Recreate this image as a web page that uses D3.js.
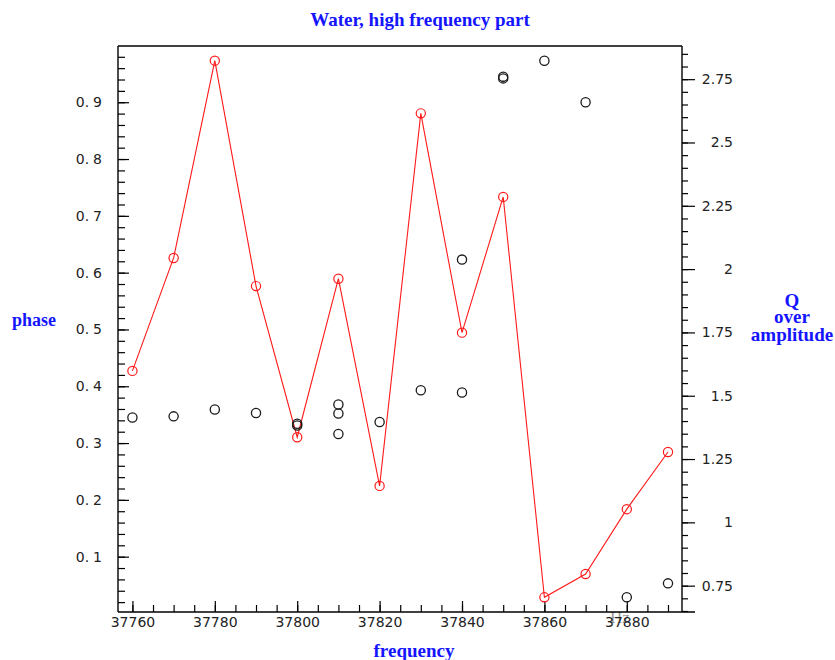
<!DOCTYPE html>
<html>
<head>
<meta charset="utf-8">
<script src="https://cdn.jsdelivr.net/npm/d3@7"></script>
<style>
  html, body { margin: 0; padding: 0; background: #fff; }
  svg { display: block; }
</style>
</head>
<body>
<svg id="chart" width="835" height="660"></svg>
<script>
// Measurement frequencies (Hz)
const freqRed = [37760, 37770, 37780, 37790, 37800, 37810, 37820, 37830, 37840, 37850, 37860, 37870, 37880, 37890];
// Q over amplitude (right axis), one value per frequency, joined by a line
const qOverAmp = [1.598, 2.044, 2.823, 1.933, 1.336, 1.962, 1.144, 2.615, 1.749, 2.285, 0.704, 0.796, 1.052, 1.278];

// Phase readings (left axis); some frequencies were measured more than once
const freqPhase = [37760, 37770, 37780, 37790, 37800, 37800, 37810, 37810, 37810, 37820, 37830, 37840, 37840, 37850, 37850, 37860, 37870, 37880, 37890];
const phase     = [0.345, 0.347, 0.359, 0.353, 0.334, 0.331, 0.368, 0.352, 0.316, 0.337, 0.393, 0.623, 0.389, 0.945, 0.942, 0.973, 0.900, 0.0285, 0.053];

// Tick values
const xMajor = [37760, 37780, 37800, 37820, 37840, 37860, 37880];
const leftMajor = [0.1, 0.2, 0.3, 0.4, 0.5, 0.6, 0.7, 0.8, 0.9];
const rightMajor = [0.75, 1, 1.25, 1.5, 1.75, 2, 2.25, 2.5, 2.75];

const svg = d3.select("#chart");
const L = 118, R = 682, T = 46, B = 612;

const x = d3.scaleLinear().domain([37756.5, 37893.4]).range([L, R]);
const yL = d3.scaleLinear().domain([0.0026, 0.999]).range([B, T]);
const yR = d3.scaleLinear().domain([0.646, 2.881]).range([B, T]);

const tickFont = "'DejaVu Sans', sans-serif";
const labelFont = "'Liberation Serif', 'Times New Roman', serif";
const blue = "#1414ff";

function styleAxis(g) {
  g.select(".domain").remove();
  g.selectAll(".tick line").attr("stroke", "#000").attr("stroke-width", 1.2);
  g.selectAll(".tick text").attr("fill", "#222").attr("font-family", tickFont).attr("font-size", 14);
}

// Unit label sits underneath the tick labels
svg.append("text")
  .attr("x", 620).attr("y", 623)
  .attr("text-anchor", "middle")
  .attr("font-family", labelFont).attr("font-size", 17)
  .attr("fill", "#9a9a9a")
  .text("Hz");

// Bottom axis: inward ticks
const xMinor = d3.range(37760, 37893, 5);
svg.append("g").attr("transform", `translate(0,${B})`)
  .call(d3.axisBottom(x).tickValues(xMinor).tickSizeInner(-7).tickSizeOuter(0).tickFormat(""))
  .call(styleAxis);
svg.append("g").attr("transform", `translate(0,${B})`)
  .call(d3.axisBottom(x).tickValues(xMajor).tickSizeInner(-11).tickSizeOuter(0).tickPadding(5).tickFormat(d => String(d)))
  .call(styleAxis);

// Left axis: inward ticks; the digit after the point is set a little apart
const leftMinor = d3.range(1, 50).map(i => i * 0.02);
svg.append("g").attr("transform", `translate(${L},0)`)
  .call(d3.axisLeft(yL).tickValues(leftMinor).tickSizeInner(-7).tickSizeOuter(0).tickFormat(""))
  .call(styleAxis);
svg.append("g").attr("transform", `translate(${L},0)`)
  .call(d3.axisLeft(yL).tickValues(leftMajor).tickSizeInner(-11).tickSizeOuter(0).tickPadding(16).tickFormat(d => String(d)))
  .call(styleAxis)
  .call(g => g.selectAll(".tick text").each(function () {
    const t = d3.select(this);
    const s = t.text();
    const k = s.indexOf(".") + 1;
    t.text(s.slice(0, k));
    t.append("tspan").attr("dx", 4).text(s.slice(k));
  }));

// Right axis: outward ticks, right-aligned labels
const rightMinor = d3.range(13, 58).map(i => i * 0.05);
svg.append("g").attr("transform", `translate(${R},0)`)
  .call(d3.axisRight(yR).tickValues(rightMinor).tickSizeInner(6).tickSizeOuter(0).tickFormat(""))
  .call(styleAxis);
svg.append("g").attr("transform", `translate(${R},0)`)
  .call(d3.axisRight(yR).tickValues(rightMajor).tickSizeInner(13).tickSizeOuter(0).tickFormat(d => String(d)))
  .call(styleAxis)
  .call(g => g.selectAll(".tick text").attr("x", 51).attr("text-anchor", "end"));

// Frame
const frame = svg.append("g").attr("stroke", "#000").attr("stroke-width", 1.4).attr("fill", "none");
frame.append("line").attr("x1", L).attr("x2", R).attr("y1", T).attr("y2", T);
frame.append("line").attr("x1", L).attr("x2", L).attr("y1", T).attr("y2", B);
frame.append("line").attr("x1", R).attr("x2", R).attr("y1", T).attr("y2", B);
frame.append("line").attr("x1", L).attr("x2", R + 13).attr("y1", B).attr("y2", B);

// Q over amplitude: red line with open circles
const redPts = freqRed.map((f, i) => [x(f), yR(qOverAmp[i])]);
svg.append("path")
  .attr("d", d3.line()(redPts))
  .attr("fill", "none").attr("stroke", "#ff1a1a").attr("stroke-width", 1.1);
svg.append("g").selectAll("circle").data(redPts).join("circle")
  .attr("cx", d => d[0]).attr("cy", d => d[1]).attr("r", 4.6)
  .attr("fill", "none").attr("stroke", "#ff1a1a").attr("stroke-width", 1.2);

// Phase: black open circles
svg.append("g").selectAll("circle").data(phase).join("circle")
  .attr("cx", (d, i) => x(freqPhase[i])).attr("cy", d => yL(d)).attr("r", 4.6)
  .attr("fill", "none").attr("stroke", "#1a1a1a").attr("stroke-width", 1.3);

// Titles
svg.append("text")
  .attr("x", 420).attr("y", 26).attr("text-anchor", "middle")
  .attr("font-family", labelFont).attr("font-weight", "bold").attr("font-size", 19)
  .attr("fill", blue)
  .text("Water, high frequency part");

svg.append("text")
  .attr("x", 34).attr("y", 326).attr("text-anchor", "middle")
  .attr("font-family", labelFont).attr("font-weight", "bold").attr("font-size", 18)
  .attr("fill", blue)
  .text("phase");

const rTitle = svg.append("text")
  .attr("text-anchor", "middle")
  .attr("font-family", labelFont).attr("font-weight", "bold").attr("font-size", 19)
  .attr("fill", blue);
rTitle.append("tspan").attr("x", 792).attr("y", 307).text("Q");
rTitle.append("tspan").attr("x", 792).attr("y", 323).text("over");
rTitle.append("tspan").attr("x", 792).attr("y", 341).text("amplitude");

svg.append("text")
  .attr("x", 414).attr("y", 657).attr("text-anchor", "middle")
  .attr("font-family", labelFont).attr("font-weight", "bold").attr("font-size", 19)
  .attr("fill", blue)
  .text("frequency");
</script>
</body>
</html>
